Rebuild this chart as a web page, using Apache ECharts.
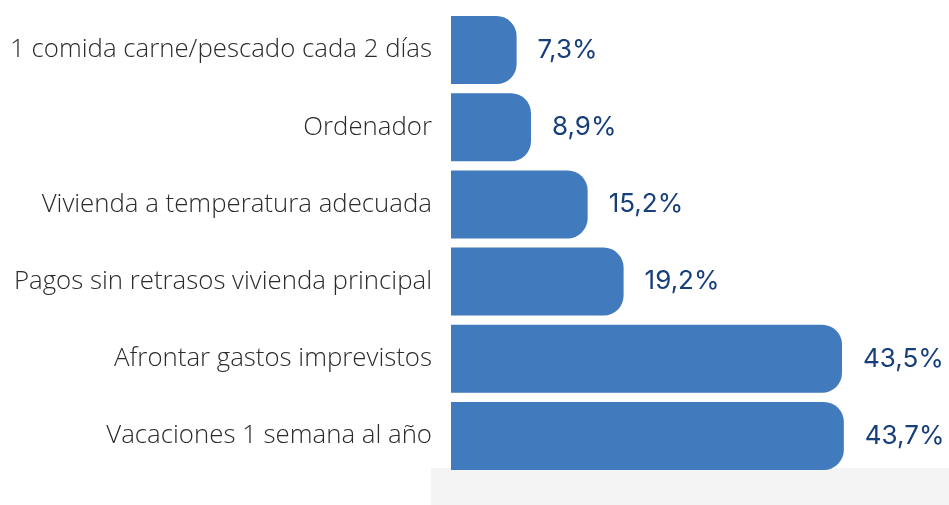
<!DOCTYPE html>
<html>
<head>
<meta charset="utf-8">
<script src="https://cdn.jsdelivr.net/npm/echarts@6/dist/echarts.min.js"></script>
<style>
  html, body { margin: 0; padding: 0; background: #fff; }
  #chart { width: 949px; height: 505px; }
</style>
</head>
<body>
<div id="chart"></div>
<script>
// categorías (de arriba abajo)
const categorias = [
  '1 comida carne/pescado cada 2 días',
  'Ordenador',
  'Vivienda a temperatura adecuada',
  'Pagos sin retrasos vivienda principal',
  'Afrontar gastos imprevistos',
  'Vacaciones 1 semana al año'
];
// porcentaje de hogares
const valores = [7.3, 8.9, 15.2, 19.2, 43.5, 43.7];

const chart = echarts.init(document.getElementById('chart'));
chart.setOption({
  animation: false,
  grid: { left: 451, right: 0, top: 11.5, bottom: 30.5 },
  xAxis: {
    type: 'value',
    min: 0,
    max: 55.4,
    show: false
  },
  yAxis: {
    type: 'category',
    inverse: true,
    data: categorias,
    axisLine: { show: false },
    axisTick: { show: false },
    axisLabel: {
      margin: 19,
      color: '#2b2b2b',
      fontFamily: 'Open Sans',
      fontWeight: 300,
      fontSize: 25.8
    }
  },
  graphic: [
    {
      type: 'rect',
      z: 0,
      shape: { x: 431, y: 468, width: 518, height: 37 },
      style: { fill: '#f4f4f4' }
    }
  ],
  series: [
    {
      type: 'bar',
      z: 2,
      data: valores,
      barWidth: 68,
      itemStyle: { color: '#417abd', borderRadius: [0, 20, 20, 0] },
      label: {
        show: true,
        position: 'right',
        distance: 21,
        color: '#173f7a',
        fontFamily: 'Inter',
        fontSize: 26,
        formatter: p => p.value.toFixed(1).replace('.', ',') + '%'
      }
    }
  ]
});
</script>
</body>
</html>
